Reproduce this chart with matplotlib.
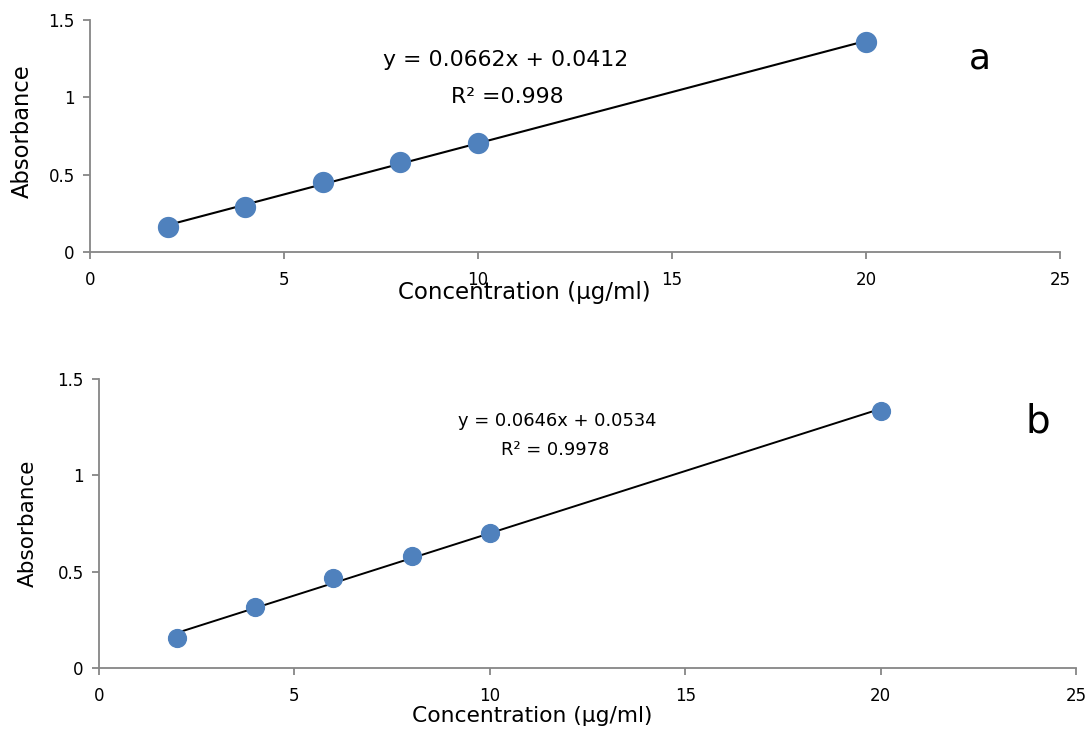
import numpy as np
import matplotlib.pyplot as plt

conc = [2, 4, 6, 8, 10, 20]
abs_a = [0.16, 0.29, 0.455, 0.585, 0.705, 1.355]
abs_b = [0.155, 0.315, 0.465, 0.58, 0.70, 1.335]
fit_a = (0.0662, 0.0412)
fit_b = (0.0646, 0.0534)
eq_a = ["y = 0.0662x + 0.0412", "R² =0.998"]
eq_b = ["y = 0.0646x + 0.0534", "R² = 0.9978"]

blue = "#4F81BD"
grey = "#868686"

fig = plt.figure(figsize=(10.91, 7.31), dpi=100)
ax1 = fig.add_axes([0.0825, 0.6553, 0.8891, 0.3173])
ax2 = fig.add_axes([0.0907, 0.0862, 0.8956, 0.3953])


def style(ax):
    ax.set_xlim(0, 25)
    ax.set_ylim(0, 1.5)
    ax.set_xticks([0, 5, 10, 15, 20, 25])
    ax.set_yticks([0, 0.5, 1, 1.5])
    ax.set_yticklabels(["0", "0.5", "1", "1.5"])
    for s in ["top", "right"]:
        ax.spines[s].set_visible(False)
    for s in ["left", "bottom"]:
        ax.spines[s].set_color(grey)
        ax.spines[s].set_linewidth(1.3)
    ax.tick_params(direction="out", length=5, color=grey, width=1.3,
                   labelsize=12)
    ax.tick_params(axis="x", pad=9)
    ax.tick_params(axis="y", pad=6)


xs = np.array([conc[0], conc[-1]])

# panel a
style(ax1)
ax1.plot(xs, fit_a[0] * xs + fit_a[1], color="black", lw=1.5, zorder=2)
ax1.scatter(conc, abs_a, s=205, color=blue, zorder=3, clip_on=False)
ax1.text(10.7, 1.24, eq_a[0], ha="center", va="center", fontsize=15.8)
ax1.text(10.75, 1.0, eq_a[1], ha="center", va="center", fontsize=15.8)
ax1.text(22.94, 1.25, "a", ha="center", va="center", fontsize=26)
fig.text(0.0202, 0.821, "Absorbance", rotation=90, ha="center",
         va="center", fontsize=16.3)
fig.text(0.481, 0.6005, "Concentration (µg/ml)", ha="center", va="center",
         fontsize=16.5)

# panel b
style(ax2)
ax2.plot(xs, fit_b[0] * xs + fit_b[1], color="black", lw=1.4, zorder=2)
ax2.scatter(conc, abs_b, s=165, color=blue, zorder=3, clip_on=False)
ax2.text(11.72, 1.28, eq_b[0], ha="center", va="center", fontsize=12.9)
ax2.text(11.67, 1.13, eq_b[1], ha="center", va="center", fontsize=12.9)
ax2.text(24.03, 1.28, "b", ha="center", va="center", fontsize=28)
fig.text(0.0257, 0.2845, "Absorbance", rotation=90, ha="center",
         va="center", fontsize=15.5)
fig.text(0.4876, 0.0205, "Concentration (µg/ml)", ha="center", va="center",
         fontsize=15.7)

fig.savefig("out.png", dpi=100)
